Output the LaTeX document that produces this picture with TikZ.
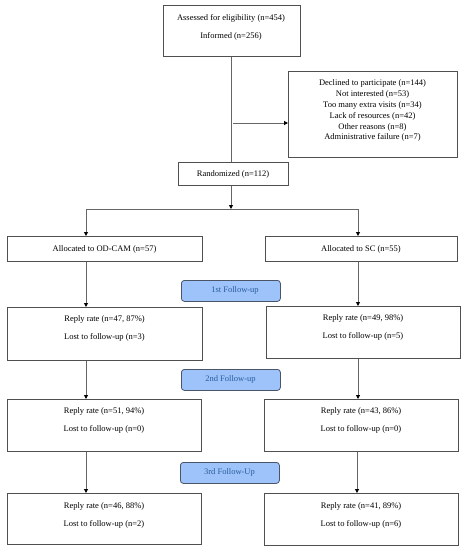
\documentclass[tikz,border=0pt]{standalone}
\usepackage{fontspec}
\setmainfont{Liberation Serif}
\usetikzlibrary{arrows.meta}
\definecolor{lineg}{HTML}{666666}
\definecolor{boxg}{HTML}{505050}
\definecolor{fu}{HTML}{9DC3FA}
\definecolor{fub}{HTML}{4A5568}
\definecolor{fut}{HTML}{2B5C9C}
\tikzset{
  box/.style={draw=boxg, line width=0.8pt, rectangle, inner sep=0pt, anchor=north west},
  fubox/.style={draw=fub, fill=fu, rounded corners=3pt, line width=0.8pt, inner sep=0pt, anchor=north west, text=fut},
  conn/.style={draw=lineg, line width=1pt},
  arr/.style={conn, -{Triangle[length=4pt,width=4pt,color=black]}},
  txt/.style={font=\fontsize{8.5}{10}\selectfont, inner sep=0pt}
}
\begin{document}
\begin{tikzpicture}[x=1pt,y=-1pt]
\useasboundingbox (0,0) rectangle (465,550);
% top box
\node[box, minimum width=137pt, minimum height=51pt] (top) at (163,5) {};
\node[txt] at (231,18) {Assessed for eligibility (n=454)};
\node[txt] at (231,36) {Informed (n=256)};
% declined
\node[box, minimum width=169pt, minimum height=86pt] (dec) at (288,71) {};
\node[txt, align=center] at (372.5,83) {Declined to participate (n=144)};
\node[txt] at (372.5,94) {Not interested (n=53)};
\node[txt] at (372.5,105) {Too many extra visits (n=34)};
\node[txt] at (372.5,116) {Lack of resources (n=42)};
\node[txt] at (372.5,127) {Other reasons (n=8)};
\node[txt] at (372.5,137) {Administrative failure (n=7)};
% randomized
\node[box, minimum width=110pt, minimum height=23pt] (rand) at (178,162) {};
\node[txt] at (233,174) {Randomized (n=112)};
% allocated
\node[box, minimum width=195pt, minimum height=25pt] (alA) at (7,236) {};
\node[txt] at (104.5,249) {Allocated to OD-CAM (n=57)};
\node[box, minimum width=192pt, minimum height=25pt] (alB) at (265,236) {};
\node[txt] at (361,249) {Allocated to SC (n=55)};
% follow-up labels
\node[fubox, minimum width=99pt, minimum height=21pt] (f1) at (181,280) {};
\node[txt, text=fut] at (235,290.5) {1st Follow-up};
\node[fubox, minimum width=99pt, minimum height=21pt] (f2) at (181,369) {};
\node[txt, text=fut] at (230.5,379.5) {2nd Follow-up};
\node[fubox, minimum width=99pt, minimum height=21pt] (f3) at (180,462) {};
\node[txt, text=fut] at (229.5,472.5) {3rd Follow-Up};
% row 1 replies
\node[box, minimum width=195pt, minimum height=53pt] (r1A) at (7,307) {};
\node[txt] at (104.5,319) {Reply rate (n=47, 87\%)};
\node[txt] at (104.5,337) {Lost to follow-up (n=3)};
\node[box, minimum width=194pt, minimum height=52pt] (r1B) at (266,306) {};
\node[txt] at (363,318) {Reply rate (n=49, 98\%)};
\node[txt] at (363,336) {Lost to follow-up (n=5)};
% row 2
\node[box, minimum width=194pt, minimum height=52pt] (r2A) at (7,399) {};
\node[txt] at (104,411) {Reply rate (n=51, 94\%)};
\node[txt] at (104,429) {Lost to follow-up (n=0)};
\node[box, minimum width=194pt, minimum height=52pt] (r2B) at (264,399) {};
\node[txt] at (361,411) {Reply rate (n=43, 86\%)};
\node[txt] at (361,429) {Lost to follow-up (n=0)};
% row 3
\node[box, minimum width=194pt, minimum height=51pt] (r3A) at (7,493) {};
\node[txt] at (104,506) {Reply rate (n=46, 88\%)};
\node[txt] at (104,524) {Lost to follow-up (n=2)};
\node[box, minimum width=194pt, minimum height=52pt] (r3B) at (264,493) {};
\node[txt] at (361,506) {Reply rate (n=41, 89\%)};
\node[txt] at (361,524) {Lost to follow-up (n=6)};
% connectors
\coordinate (c1) at (231,123);
\coordinate (split) at (231,209);
\draw[conn] (top.south -| c1) -- (rand.north -| c1);
\draw[arr] (c1) ++(2,0) -- (dec.west |- c1);
\draw[arr] (rand.south -| c1) -- (split);
\draw[conn] (86,209) -- (358,209);
\draw[arr] (86,209) -- (alA.north -| 86,0);
\draw[arr] (358,209) -- (alB.north -| 358,0);
\draw[arr] (alA.south -| 86,0) -- (r1A.north -| 86,0);
\draw[arr] (alB.south -| 358,0) -- (r1B.north -| 358,0);
\draw[arr] (r1A.south -| 86,0) -- (r2A.north -| 86,0);
\draw[arr] (r1B.south -| 358,0) -- (r2B.north -| 358,0);
\draw[arr] (r2A.south -| 86,0) -- (r3A.north -| 86,0);
\draw[arr] (r2B.south -| 357,0) -- (r3B.north -| 357,0);
\end{tikzpicture}
\end{document}
